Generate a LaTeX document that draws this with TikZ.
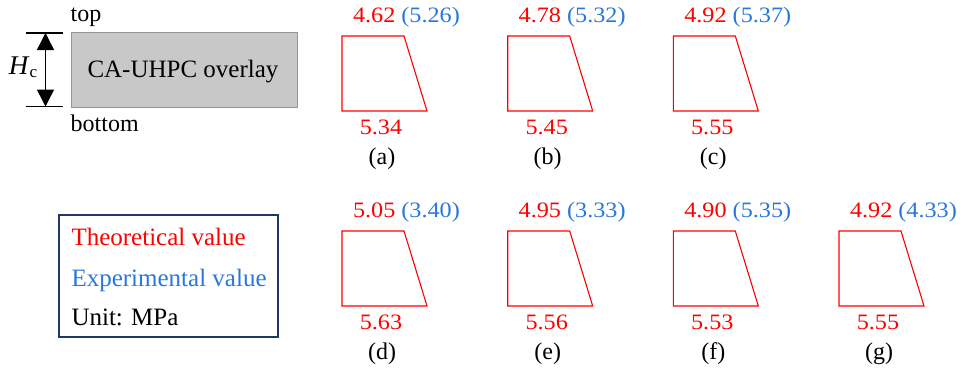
\documentclass[tikz,border=0pt]{standalone}
\usepackage{fontspec}
\setmainfont{Liberation Serif}
\newfontfamily\numfont[FakeStretch=1.1]{Liberation Serif}
\usetikzlibrary{arrows.meta}
\definecolor{thr}{RGB}{255,0,0}
\definecolor{exb}{RGB}{40,120,220}
\definecolor{navy}{RGB}{32,56,100}
\definecolor{boxgray}{RGB}{200,200,200}
\definecolor{boxedge}{RGB}{150,150,150}
\begin{document}
\begin{tikzpicture}[x=1pt,y=-1pt,
  every node/.style={inner sep=0pt, outer sep=0pt},
  lbl/.style={font=\fontsize{24}{28}\selectfont},
  big/.style={font=\fontsize{25}{29}\selectfont},
  num/.style={font=\numfont\fontsize{22}{26}\selectfont},
  trap/.style={draw=thr, line width=1.1pt},
  dimtick/.style={draw=black, line width=1.3pt},
  dimarrow/.style={line width=1.5pt, {Triangle[width=17pt,length=17pt]}-{Triangle[width=17pt,length=17pt]}}
]
\useasboundingbox (0,0) rectangle (963,370);

% overlay sketch
\node[draw=boxedge, fill=boxgray, line width=0.8pt, minimum width=226pt, minimum height=75pt, anchor=north west] (overlay) at (71,32) {};
\node[big, anchor=base] (overlaytxt) at (183,77.5) {CA-UHPC overlay};
\node[lbl, anchor=base west] (toplbl) at (70.7,21) {top};
\node[lbl, anchor=base west] (botlbl) at (70.7,131) {bottom};
\coordinate (ta) at (26,33);
\coordinate (tb) at (63,33);
\coordinate (ba) at (26,106.5);
\coordinate (bb) at (63,106.5);
\coordinate (aa) at (45.5,33);
\coordinate (ab) at (45.5,106.5);
\draw[dimtick] (ta) -- (tb);
\draw[dimtick] (ba) -- (bb);
\draw[dimarrow] (aa) -- (ab);
\node[anchor=base west] (hc) at (9,74.3) {\fontsize{27}{30}\selectfont\textit{H}\raisebox{-3.4pt}{\fontsize{17}{20}\selectfont c}};

% legend
\node[draw=navy, line width=1.3pt, minimum width=219pt, minimum height=122pt, anchor=north west] (legend) at (59,215) {};
\node[big, anchor=base west, text=thr] (leg1) at (71.5,245) {Theoretical value};
\node[big, anchor=base west, text=exb] (leg2) at (71.5,286.5) {Experimental value};
\node[big, anchor=base west] (leg3) at (71.5,325) {Unit: MPa};

% panels
\foreach \id/\L/\dy/\t/\e/\b in {
  a/342/0/4.62/5.26/5.34,
  b/507.7/0/4.78/5.32/5.45,
  c/673.3/0/4.92/5.37/5.55,
  d/342/195/5.05/3.40/5.63,
  e/507.7/195/4.95/3.33/5.56,
  f/673.3/195/4.90/5.35/5.53,
  g/839/195/4.92/4.33/5.55}{
  \draw[trap] (\L,36+\dy) -- (\L+62,36+\dy) -- (\L+85,111+\dy) -- (\L,111+\dy) -- cycle;
  \node[num, anchor=base west] (top-\id) at (\L+11,22+\dy) {\textcolor{thr}{\t} \textcolor{exb}{(\e)}};
  \node[num, anchor=base, text=thr] (bot-\id) at (\L+39,134+\dy) {\b};
  \node[lbl, anchor=base] (sub-\id) at (\L+40,164+\dy) {(\id)};
}
\end{tikzpicture}
\end{document}
